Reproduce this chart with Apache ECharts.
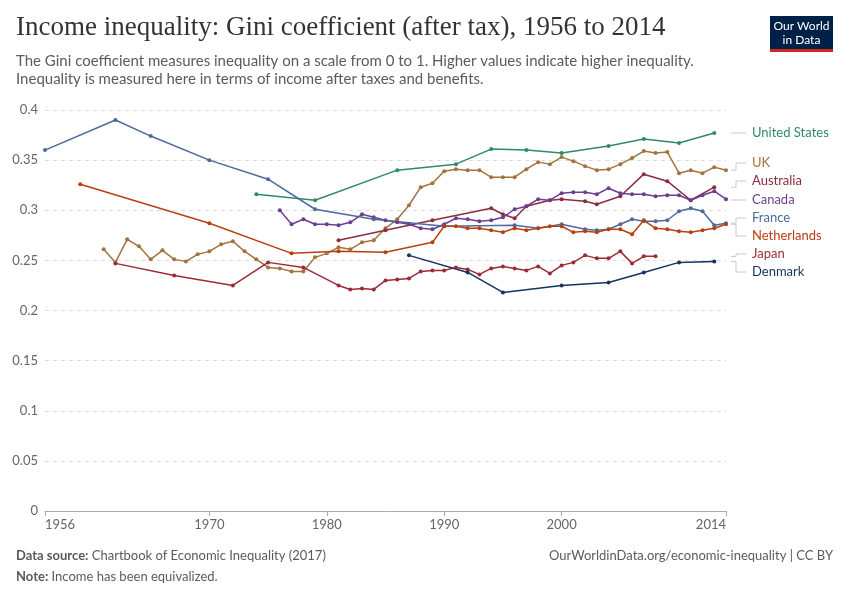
<!DOCTYPE html>
<html><head><meta charset="utf-8">
<script src="https://cdn.jsdelivr.net/npm/echarts@6/dist/echarts.min.js"></script>
<style>html,body{margin:0;padding:0;background:#fff}#c{width:850px;height:600px}</style>
</head><body><div id="c"></div>
<script>
// ---- Data ----
const countries = ['United States','UK','Australia','Canada','France','Netherlands','Japan','Denmark'];

const usYears = [1974,1979,1986,1991,1994,1997,2000,2004,2007,2010,2013];
const usValues = [0.316,0.310,0.340,0.346,0.361,0.360,0.357,0.364,0.371,0.367,0.377];

const ukYears = [1961,1962,1963,1964,1965,1966,1967,1968,1969,1970,1971,1972,1973,1974,1975,1976,1977,1978,1979,1980,1981,1982,1983,1984,1985,1986,1987,1988,1989,1990,1991,1992,1993,1994,1995,1996,1997,1998,1999,2000,2001,2002,2003,2004,2005,2006,2007,2008,2009,2010,2011,2012,2013,2014];
const ukValues = [0.261,0.248,0.271,0.264,0.251,0.260,0.251,0.249,0.256,0.259,0.266,0.269,0.259,0.251,0.243,0.242,0.239,0.239,0.253,0.257,0.263,0.261,0.268,0.270,0.282,0.291,0.305,0.323,0.327,0.339,0.341,0.340,0.340,0.333,0.333,0.333,0.341,0.348,0.346,0.353,0.349,0.344,0.340,0.341,0.346,0.352,0.359,0.357,0.358,0.337,0.340,0.337,0.343,0.340];

const auYears = [1981,1985,1989,1994,1995,1996,1997,1999,2000,2002,2003,2005,2007,2009,2011,2013];
const auValues = [0.270,0.280,0.290,0.302,0.296,0.292,0.304,0.310,0.311,0.309,0.306,0.314,0.336,0.329,0.310,0.323];

const caYears = [1976,1977,1978,1979,1980,1981,1982,1983,1984,1985,1986,1987,1988,1989,1990,1991,1992,1993,1994,1995,1996,1997,1998,1999,2000,2001,2002,2003,2004,2005,2006,2007,2008,2009,2010,2011,2012,2013,2014];
const caValues = [0.300,0.286,0.291,0.286,0.286,0.285,0.288,0.296,0.293,0.290,0.288,0.286,0.282,0.281,0.286,0.292,0.291,0.289,0.290,0.293,0.301,0.304,0.311,0.310,0.317,0.318,0.318,0.316,0.322,0.317,0.316,0.316,0.314,0.315,0.315,0.310,0.315,0.319,0.311];

const frYears = [1956,1962,1965,1970,1975,1979,1984,1990,1996,1998,2000,2002,2003,2004,2005,2006,2007,2008,2009,2010,2011,2012,2013,2014];
const frValues = [0.360,0.390,0.374,0.350,0.331,0.301,0.291,0.284,0.285,0.282,0.286,0.281,0.280,0.281,0.286,0.291,0.289,0.289,0.290,0.299,0.302,0.299,0.285,0.287];

const nlYears = [1959,1970,1977,1981,1985,1989,1990,1991,1992,1993,1994,1995,1996,1997,1998,1999,2000,2001,2002,2003,2004,2005,2006,2007,2008,2009,2010,2011,2012,2013,2014];
const nlValues = [0.326,0.287,0.257,0.259,0.258,0.268,0.284,0.284,0.282,0.282,0.280,0.278,0.282,0.280,0.282,0.284,0.284,0.278,0.279,0.278,0.281,0.281,0.276,0.290,0.282,0.281,0.279,0.278,0.280,0.282,0.286];

const jpYears = [1962,1967,1972,1975,1978,1981,1982,1983,1984,1985,1986,1987,1988,1989,1990,1991,1992,1993,1994,1995,1996,1997,1998,1999,2000,2001,2002,2003,2004,2005,2006,2007,2008];
const jpValues = [0.247,0.235,0.225,0.248,0.243,0.225,0.221,0.222,0.221,0.230,0.231,0.232,0.239,0.240,0.240,0.243,0.241,0.236,0.242,0.244,0.242,0.240,0.244,0.237,0.245,0.248,0.255,0.252,0.252,0.259,0.247,0.254,0.254];

const dkYears = [1987,1992,1995,2000,2004,2007,2010,2013];
const dkValues = [0.255,0.238,0.218,0.225,0.228,0.238,0.248,0.249];

const xTickLabels = [1956,1970,1980,1990,2000,2014];

// ---- Styling ----
const colors = ['#2f8a68','#a2733b','#8b2d3d','#6c3e91','#4c6a9c','#b8400e','#9c2b38','#15335e'];
const labelY = [133,163,181,200,218,236,254,272];

const seriesData = [
  [usYears,usValues],[ukYears,ukValues],[auYears,auValues],[caYears,caValues],
  [frYears,frValues],[nlYears,nlValues],[jpYears,jpValues],[dkYears,dkValues]
];

const chart = echarts.init(document.getElementById('c'), null, {renderer:'canvas'});
const FONT = 'Lato, "Noto Sans", sans-serif';

const series = seriesData.map((d,i)=>({
  name: countries[i],
  type:'line',
  data: d[0].map((y,k)=>[y,d[1][k]]),
  symbol:'circle',
  symbolSize:4,
  showSymbol:true,
  lineStyle:{width:1.5,color:colors[i]},
  itemStyle:{color:colors[i]},
  emphasis:{disabled:true}
}));

const option = {
  animation:false,
  backgroundColor:'#fff',
  grid:{left:45,right:124,top:110,bottom:89,containLabel:false},
  xAxis:{
    type:'value',min:1956,max:2014,
    axisLine:{show:true,lineStyle:{color:'#aaa',width:1}},
    axisTick:{show:true,length:5,lineStyle:{color:'#aaa'},customValues:xTickLabels},
    axisLabel:{customValues:xTickLabels,color:'#666',fontSize:13,fontFamily:FONT,margin:7,
      alignMinLabel:'left',alignMaxLabel:'right',formatter:v=>String(v)},
    splitLine:{show:false}
  },
  yAxis:{
    type:'value',min:0,max:0.4,interval:0.05,
    axisLine:{show:false},axisTick:{show:false},
    axisLabel:{color:'#666',fontSize:13,fontFamily:FONT,margin:7,formatter:v=>String(+v.toFixed(2))},
    splitLine:{show:true,lineStyle:{color:'#dddddd',type:[4,4],width:1}}
  },
  series: series
};
chart.setOption(option);

// ---- Legend labels with connectors, title, footer ----
const graphics = [];
graphics.push({type:'text',left:16,top:14,style:{text:'Income inequality: Gini coefficient (after tax), 1956 to 2014',
  font:'27px "Liberation Serif", "DejaVu Serif", serif',fill:'#333'}});
graphics.push({type:'text',left:16,top:52,style:{text:'The Gini coefficient measures inequality on a scale from 0 to 1. Higher values indicate higher inequality.\nInequality is measured here in terms of income after taxes and benefits.',
  font:'15px '+FONT,fill:'#5b5b5b',lineHeight:18}});
// logo
graphics.push({type:'rect',shape:{x:770,y:16,width:63,height:34},style:{fill:'#002147'}});
graphics.push({type:'rect',shape:{x:770,y:49,width:63,height:3},style:{fill:'#ce261e'}});
graphics.push({type:'text',x:801.5,y:33,style:{text:'Our World\nin Data',font:'12px '+FONT,fill:'#fff',align:'center',verticalAlign:'middle',lineHeight:14}});
// footer
graphics.push({type:'text',left:16,top:549,style:{text:'{b|Data source:} Chartbook of Economic Inequality (2017)',
  rich:{b:{fontWeight:'bold',fontSize:13,fontFamily:FONT,fill:'#5b5b5b'}},font:'13px '+FONT,fill:'#5b5b5b'}});
graphics.push({type:'text',left:16,top:570,style:{text:'{b|Note:} Income has been equivalized.',
  rich:{b:{fontWeight:'bold',fontSize:13,fontFamily:FONT,fill:'#5b5b5b'}},font:'13px '+FONT,fill:'#5b5b5b'}});
graphics.push({type:'text',right:17,top:549,style:{text:'OurWorldinData.org/economic-inequality | CC BY',font:'13px '+FONT,fill:'#5b5b5b'}});

seriesData.forEach((d,i)=>{
  const n = d[0].length;
  const p = chart.convertToPixel({gridIndex:0},[2014,d[1][n-1]]);
  const x0 = p[0]+5, yD = p[1], yL = labelY[i];
  const pts = Math.abs(yD-yL)<2 ? [[x0,yL],[x0+15,yL]] : [[x0,yD],[x0+5,yD],[x0+5,yL],[x0+15,yL]];
  graphics.push({type:'polyline',shape:{points:pts},style:{stroke:'#c8c8c8',lineWidth:1,fill:null}});
  graphics.push({type:'text',x:x0+21,y:yL,style:{text:countries[i],font:'13px '+FONT,fill:colors[i],verticalAlign:'middle'}});
});
chart.setOption({graphic:graphics});
</script>
</body></html>
